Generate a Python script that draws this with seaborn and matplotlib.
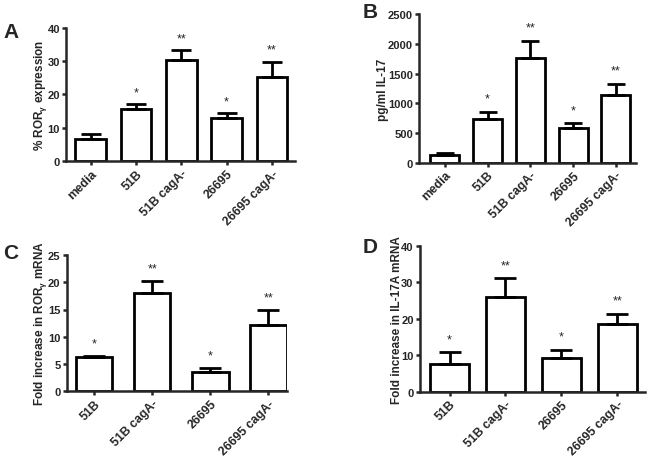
#!/usr/bin/env python3
"""
Four-panel bar chart: ROR-gamma / IL-17 responses to H. pylori strains.
"""

import matplotlib
matplotlib.use('Agg')
import pandas as pd
import matplotlib.pyplot as plt
import seaborn as sns

# Panel A: % RORgamma expression
strains_a = ['media', '51B', '51B cagA-', '26695', '26695 cagA-']
ror_pct = [6.7, 15.6, 30.4, 12.8, 25.4]
ror_pct_err = [1.4, 1.4, 3.0, 1.6, 4.4]
ror_pct_sig = ['', '*', '**', '*', '**']

# Panel B: pg/ml IL-17
strains_b = ['media', '51B', '51B cagA-', '26695', '26695 cagA-']
il17_pg = [135, 729, 1771, 583, 1138]
il17_pg_err = [28, 129, 286, 78, 185]
il17_pg_sig = ['', '*', '**', '*', '**']

# Panel C: fold increase in RORgamma mRNA
strains_c = ['51B', '51B cagA-', '26695', '26695 cagA-']
ror_mrna = [6.2, 18.0, 3.5, 12.1]
ror_mrna_err = [0.3, 2.3, 0.8, 2.9]
ror_mrna_sig = ['*', '**', '*', '**']

# Panel D: fold increase in IL-17A mRNA
strains_d = ['51B', '51B cagA-', '26695', '26695 cagA-']
il17_mrna = [7.6, 25.9, 9.3, 18.7]
il17_mrna_err = [3.2, 5.3, 2.2, 2.7]
il17_mrna_sig = ['*', '**', '*', '**']

sns.set_style('ticks')
plt.rcParams['font.family'] = ['Liberation Sans', 'DejaVu Sans']
plt.rcParams['mathtext.fontset'] = 'custom'
plt.rcParams['mathtext.rm'] = 'Liberation Sans:bold'

GAMMA = r'$_{\mathregular{\gamma}}$'


def draw_panel(fig, rect, letter, letter_xy, strains, values, errs, sig,
               ylabel, ymax, ystep, xlim, width, capsize):
    ax = fig.add_axes(rect)
    df = pd.DataFrame({'strain': strains, 'value': values})
    sns.barplot(data=df, x='strain', y='value', ax=ax, color='white',
                edgecolor='black', linewidth=2, width=width, errorbar=None)
    xs = range(len(strains))
    ax.errorbar(xs, values, yerr=[[0] * len(errs), errs], fmt='none',
                ecolor='black', elinewidth=2, capsize=capsize, capthick=2)
    for x, v, e, s in zip(xs, values, errs, sig):
        if s:
            ax.text(x, v + e + ymax * 0.09, s, ha='center', va='center',
                    fontsize=9)

    ax.set_ylim(0, ymax)
    ax.set_yticks(range(0, int(ymax) + 1, ystep))
    ax.set_xlim(*xlim)
    ax.set_xlabel('')
    ax.set_ylabel(ylabel, fontsize=8.5, fontweight='bold', labelpad=-1)
    sns.despine(ax=ax)
    for side in ['left', 'bottom']:
        ax.spines[side].set_linewidth(1.8)
    ax.tick_params(axis='both', width=1.8, length=3, pad=1.5)
    ax.tick_params(axis='y', labelsize=8)
    ax.tick_params(axis='x', labelsize=8.8)
    for lab in ax.get_yticklabels():
        lab.set_fontweight('bold')
    plt.setp(ax.get_xticklabels(), rotation=45, ha='right',
             rotation_mode='anchor', fontweight='bold')
    fig.text(letter_xy[0], letter_xy[1], letter, fontsize=15,
             fontweight='bold', ha='center', va='center')
    return ax


fig = plt.figure(figsize=(6.49, 4.60), dpi=100)

draw_panel(fig, [0.102, 0.648, 0.352, 0.289], 'A', (0.017, 0.93),
           strains_a, ror_pct, ror_pct_err, ror_pct_sig,
           '% ROR' + GAMMA + ' expression', 40, 10, (-0.54, 4.5), 0.68, 7)
draw_panel(fig, [0.646, 0.644, 0.334, 0.323], 'B', (0.57, 0.972),
           strains_b, il17_pg, il17_pg_err, il17_pg_sig,
           'pg/ml IL-17', 2500, 500, (-0.6, 4.47), 0.68, 6.5)
draw_panel(fig, [0.103, 0.148, 0.339, 0.295], 'C', (0.017, 0.448),
           strains_c, ror_mrna, ror_mrna_err, ror_mrna_sig,
           'Fold increase in ROR' + GAMMA + ' mRNA', 25, 5, (-0.47, 3.32),
           0.63, 8)
draw_panel(fig, [0.647, 0.146, 0.347, 0.317], 'D', (0.57, 0.463),
           strains_d, il17_mrna, il17_mrna_err, il17_mrna_sig,
           'Fold increase in IL-17A mRNA', 40, 10, (-0.53, 3.5), 0.70, 8)

fig.savefig('out.png', dpi=100)
